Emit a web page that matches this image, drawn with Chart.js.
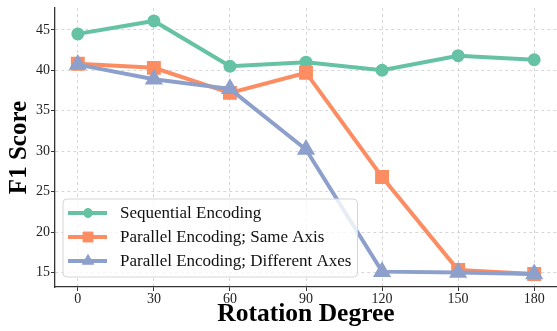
<!DOCTYPE html>
<html>
<head>
<meta charset="utf-8">
<script src="https://cdn.jsdelivr.net/npm/chart.js@4.4.0/dist/chart.umd.min.js"></script>
<style>
    html, body { margin: 0; padding: 0; background: #fff; }
    #wrap { width: 557px; height: 331px; }
</style>
</head>
<body>
<div id="wrap"><canvas id="myChart" width="557" height="331"></canvas></div>
<script>
// valores
var graus = [0, 30, 60, 90, 120, 150, 180];
var sequential = [44.5, 46.1, 40.5, 41.0, 40.0, 41.8, 41.3];
var sameAxis = [40.8, 40.3, 37.2, 39.7, 26.8, 15.3, 14.8];
var diffAxes = [40.7, 38.9, 37.7, 30.2, 15.1, 15.0, 14.8];
var ticksY = [15, 20, 25, 30, 35, 40, 45];
var nomes = ['Sequential Encoding', 'Parallel Encoding; Same Axis', 'Parallel Encoding; Different Axes'];

var fonte = '"Liberation Serif", "Times New Roman", serif';

function pontos(arr) {
    return graus.map(function (g, i) { return { x: g, y: arr[i] }; });
}

// legenda desenhada dentro da area do grafico
var legenda = {
    id: 'legenda',
    afterDatasetsDraw: function (chart) {
        var ctx = chart.ctx;
        var area = chart.chartArea;
        var sets = chart.data.datasets;
        ctx.save();
        ctx.font = '17px ' + fonte;
        var maxW = 0;
        sets.forEach(function (ds) { maxW = Math.max(maxW, ctx.measureText(ds.label).width); });
        var rowH = 24;
        var w = 57 + maxW + 6;
        var h = sets.length * rowH + 6;
        var x0 = area.left + 8;
        var y0 = area.bottom - 10 - h;

        ctx.beginPath();
        ctx.roundRect(x0, y0, w, h, 4);
        ctx.fillStyle = 'rgba(255,255,255,0.8)';
        ctx.fill();
        ctx.lineWidth = 1;
        ctx.strokeStyle = '#d5d5d5';
        ctx.stroke();

        sets.forEach(function (ds, i) {
            var cy = y0 + 14 + i * rowH;
            ctx.beginPath();
            ctx.moveTo(x0 + 5, cy);
            ctx.lineTo(x0 + 44, cy);
            ctx.lineWidth = ds.borderWidth;
            ctx.strokeStyle = ds.borderColor;
            ctx.stroke();
            ctx.fillStyle = ds.backgroundColor;
            ctx.strokeStyle = ds.borderColor;
            ctx.lineWidth = 1;
            Chart.helpers.drawPoint(ctx, { pointStyle: ds.pointStyle, radius: ds.pointRadius, rotation: 0, borderWidth: 1 }, x0 + 25, cy);
            ctx.fillStyle = '#111';
            ctx.textBaseline = 'middle';
            ctx.textAlign = 'left';
            ctx.fillText(ds.label, x0 + 57, cy + 1);
        });
        ctx.restore();
    }
};

var ctx = document.getElementById('myChart').getContext('2d');
window.myChart = new Chart(ctx, {
    type: 'line',
    data: {
        datasets: [{
            label: nomes[0],
            data: pontos(sequential),
            borderColor: '#66c2a5',
            backgroundColor: '#66c2a5',
            borderWidth: 4,
            pointStyle: 'circle',
            pointRadius: 4.5,
            order: 3
        }, {
            label: nomes[1],
            data: pontos(sameAxis),
            borderColor: '#fc8d62',
            backgroundColor: '#fc8d62',
            borderWidth: 4,
            pointStyle: 'rect',
            pointRadius: 7,
            order: 2
        }, {
            label: nomes[2],
            data: pontos(diffAxes),
            borderColor: '#8da0cb',
            backgroundColor: '#8da0cb',
            borderWidth: 4,
            pointStyle: 'triangle',
            pointRadius: 6.5,
            order: 1
        }]
    },
    options: {
        responsive: false,
        animation: false,
        events: [],
        layout: { autoPadding: false, padding: { top: 8, left: 0, right: 0, bottom: 0 } },
        elements: { line: { tension: 0 }, point: { borderWidth: 1 } },
        plugins: { legend: { display: false }, tooltip: { enabled: false } },
        scales: {
            x: {
                type: 'linear',
                min: -9,
                max: 189,
                afterBuildTicks: function (s) { s.ticks = graus.map(function (v) { return { value: v }; }); },
                afterFit: function (s) { s.height = 44; s.paddingLeft = 0; s.paddingRight = 0; },
                ticks: { color: '#222', font: { family: fonte, size: 14 }, padding: 0, maxRotation: 0 },
                grid: { color: '#cccccc', lineWidth: 0.8, tickLength: 4, tickColor: '#333', tickWidth: 1 },
                border: { display: true, color: '#333', width: 1.3, dash: [3, 3] },
                title: { display: true, text: 'Rotation Degree', color: '#000', font: { family: fonte, size: 25.5, weight: 'bold' }, padding: { top: 0, bottom: 1 } }
            },
            y: {
                min: 13.2,
                max: 47.7,
                afterBuildTicks: function (s) { s.ticks = ticksY.map(function (v) { return { value: v }; }); },
                afterFit: function (s) { s.width = 55; s.paddingTop = 0; s.paddingBottom = 0; },
                ticks: { color: '#222', font: { family: fonte, size: 14 }, padding: 1 },
                grid: { color: '#cccccc', lineWidth: 0.8, tickLength: 4, tickColor: '#333', tickWidth: 1 },
                border: { display: true, color: '#333', width: 1.3, dash: [3, 3] },
                title: { display: true, text: 'F1 Score', color: '#000', font: { family: fonte, size: 25, weight: 'bold' }, padding: { top: 5, bottom: 0 } }
            }
        }
    },
    plugins: [legenda]
});
</script>
</body>
</html>
